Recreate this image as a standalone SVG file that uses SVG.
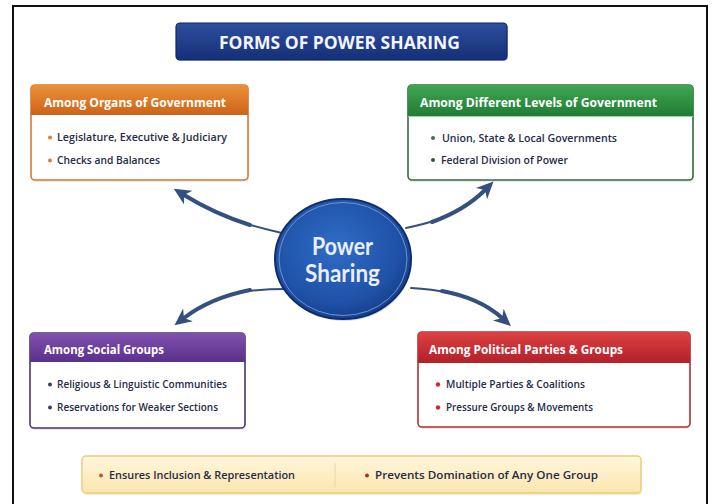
<svg xmlns="http://www.w3.org/2000/svg" width="714" height="504" viewBox="0 0 714 504">
<defs>
<linearGradient id="gTitle" x1="0" y1="0" x2="0" y2="1"><stop offset="0" stop-color="#2d4f9e"/><stop offset="1" stop-color="#152f78"/></linearGradient>
<linearGradient id="gOrange" x1="0" y1="0" x2="0" y2="1"><stop offset="0" stop-color="#ec9138"/><stop offset="1" stop-color="#cc631a"/></linearGradient>
<linearGradient id="gGreen" x1="0" y1="0" x2="0" y2="1"><stop offset="0" stop-color="#3fa651"/><stop offset="1" stop-color="#207d34"/></linearGradient>
<linearGradient id="gPurple" x1="0" y1="0" x2="0" y2="1"><stop offset="0" stop-color="#8052ad"/><stop offset="1" stop-color="#5b2f8c"/></linearGradient>
<linearGradient id="gRed" x1="0" y1="0" x2="0" y2="1"><stop offset="0" stop-color="#dc4242"/><stop offset="1" stop-color="#b2202a"/></linearGradient>
<linearGradient id="gBar" x1="0" y1="0" x2="0" y2="1"><stop offset="0" stop-color="#fff7dc"/><stop offset="1" stop-color="#fbe5ae"/></linearGradient>
<radialGradient id="gCircle" cx="0.45" cy="0.4" r="0.65"><stop offset="0" stop-color="#2f6cc6"/><stop offset="0.7" stop-color="#1f52a8"/><stop offset="1" stop-color="#133b86"/></radialGradient>
<marker id="ah" markerUnits="userSpaceOnUse" markerWidth="20" markerHeight="18" viewBox="0 0 20 18" refX="5" refY="9" orient="auto">
<path d="M0,1 L17,9 L0,17 L5,9 Z" fill="#34507e"/>
</marker>
</defs>
<style>
.frame{fill:#ffffff;stroke:#111111;stroke-width:2}
.hd{font-family:"Open Sans",Lato,"Liberation Sans",sans-serif;font-weight:bold;font-size:12px;fill:#ffffff}
.it{font-family:"Open Sans",Lato,"Liberation Sans",sans-serif;font-weight:600;font-size:10.5px;fill:#262b48}
.body{fill:#ffffff;stroke-width:1.6}
.shadow{fill:#000000;opacity:0.08}
.conn{fill:none;stroke:#34507e;stroke-width:4;stroke-linecap:round;marker-end:url(#ah)}
.tail{fill:none;stroke:#34507e;stroke-width:2;stroke-linecap:round}
</style>
<rect class="frame" x="13" y="6" width="694" height="520"/>

<g id="title">
<rect x="177" y="24" width="331" height="37" rx="4" fill="#0e2460" opacity="0.25"/>
<rect x="176" y="23" width="331" height="37" rx="4" fill="url(#gTitle)" stroke="#0f2660" stroke-width="1.2"/>
<text x="339.5" y="49" text-anchor="middle" font-family="'Open Sans',Lato,'Liberation Sans',sans-serif" font-weight="bold" font-size="18" fill="#f2f5fb" textLength="241" lengthAdjust="spacingAndGlyphs">FORMS OF POWER SHARING</text>
</g>

<g id="connectors">
<path class="tail" d="M 282 233 Q 260 228 240 222"/>
<path class="conn" d="M 250 225 Q 215 214 184 195"/>
<path class="tail" d="M 406 228 Q 425 224 440 219"/>
<path class="conn" d="M 432 222 Q 465 210 485 190"/>
<path class="tail" d="M 286 289 Q 262 289 240 292"/>
<path class="conn" d="M 250 290 Q 210 298 184 318"/>
<path class="tail" d="M 411 288 Q 432 289 450 293"/>
<path class="conn" d="M 442 291 Q 480 298 502 318"/>
</g>

<g id="center">
<ellipse cx="344" cy="261" rx="68" ry="60" fill="#000000" opacity="0.12"/>
<ellipse cx="343" cy="259" rx="68" ry="60" fill="url(#gCircle)" stroke="#0e2e6a" stroke-width="2"/>
<ellipse cx="343" cy="259" rx="64" ry="56.5" fill="none" stroke="#6d93d4" stroke-width="1"/>
<text x="342.5" y="255" text-anchor="middle" font-family="Lato,'Liberation Sans',sans-serif" font-weight="bold" font-size="24" fill="#e9eef8" textLength="61" lengthAdjust="spacingAndGlyphs">Power</text>
<text x="342.5" y="282" text-anchor="middle" font-family="Lato,'Liberation Sans',sans-serif" font-weight="bold" font-size="24" fill="#e9eef8" textLength="75" lengthAdjust="spacingAndGlyphs">Sharing</text>
</g>

<g id="organs">
<rect class="shadow" x="32" y="87" width="217" height="95" rx="4"/>
<rect class="body" x="31" y="85" width="217" height="95" rx="4" stroke="#d27a32"/>
<path d="M31,115 V89 Q31,85 35,85 H244 Q248,85 248,89 V115 Z" fill="url(#gOrange)"/>
<text class="hd" x="44" y="107" textLength="182" lengthAdjust="spacingAndGlyphs">Among Organs of Government</text>
<circle cx="50" cy="137.5" r="2" fill="#e07a3a"/>
<text class="it" x="57" y="141" textLength="170" lengthAdjust="spacingAndGlyphs">Legislature, Executive &amp; Judiciary</text>
<circle cx="50" cy="160.5" r="2" fill="#e07a3a"/>
<text class="it" x="57" y="164" textLength="103" lengthAdjust="spacingAndGlyphs">Checks and Balances</text>
</g>

<g id="levels">
<rect class="shadow" x="409" y="87" width="285" height="95" rx="4"/>
<rect class="body" x="408" y="85" width="285" height="95" rx="4" stroke="#2f6e3c"/>
<path d="M408,116 V89 Q408,85 412,85 H689 Q693,85 693,89 V116 Z" fill="url(#gGreen)"/>
<line x1="408" y1="116.5" x2="693" y2="116.5" stroke="#9fcfa6" stroke-width="1"/>
<text class="hd" x="420" y="107" textLength="237" lengthAdjust="spacingAndGlyphs">Among Different Levels of Government</text>
<circle cx="433" cy="138" r="2" fill="#4a6a50"/>
<text class="it" x="442" y="142" textLength="175" lengthAdjust="spacingAndGlyphs">Union, State &amp; Local Governments</text>
<circle cx="433" cy="160" r="2" fill="#2f5a3a"/>
<text class="it" x="441" y="164" textLength="127" lengthAdjust="spacingAndGlyphs">Federal Division of Power</text>
</g>

<g id="social">
<rect class="shadow" x="31" y="335" width="215" height="95" rx="4"/>
<rect class="body" x="30" y="333" width="215" height="95" rx="4" stroke="#4c3272"/>
<path d="M30,362 V337 Q30,333 34,333 H241 Q245,333 245,337 V362 Z" fill="url(#gPurple)"/>
<text class="hd" x="44" y="354" textLength="120" lengthAdjust="spacingAndGlyphs">Among Social Groups</text>
<circle cx="50" cy="384.5" r="2" fill="#3a3a6a"/>
<text class="it" x="57" y="388" textLength="170" lengthAdjust="spacingAndGlyphs">Religious &amp; Linguistic Communities</text>
<circle cx="50" cy="407.5" r="2" fill="#3a3a6a"/>
<text class="it" x="57" y="411" textLength="161" lengthAdjust="spacingAndGlyphs">Reservations for Weaker Sections</text>
</g>

<g id="parties">
<rect class="shadow" x="419" y="334" width="272" height="95" rx="4"/>
<rect class="body" x="418" y="332" width="272" height="95" rx="4" stroke="#ad3232"/>
<path d="M418,363 V336 Q418,332 422,332 H686 Q690,332 690,336 V363 Z" fill="url(#gRed)"/>
<text class="hd" x="429" y="354" textLength="194" lengthAdjust="spacingAndGlyphs">Among Political Parties &amp; Groups</text>
<circle cx="438" cy="384.5" r="2.2" fill="#d02a2a"/>
<text class="it" x="446" y="388" textLength="139" lengthAdjust="spacingAndGlyphs">Multiple Parties &amp; Coalitions</text>
<circle cx="438" cy="407.5" r="2.2" fill="#d02a2a"/>
<text class="it" x="446" y="411" textLength="147" lengthAdjust="spacingAndGlyphs">Pressure Groups &amp; Movements</text>
</g>

<g id="summary">
<rect x="83" y="457" width="559" height="38" rx="4" fill="#e8c878" opacity="0.35"/>
<rect x="82" y="456" width="559" height="37" rx="4" fill="url(#gBar)" stroke="#ebca7c" stroke-width="1.4"/>
<line x1="335" y1="463" x2="335" y2="487" stroke="#e6d6ac" stroke-width="1"/>
<circle cx="101" cy="475.5" r="2" fill="#c8502a"/>
<text class="it" x="109" y="479" fill="#3a2c24" textLength="186" lengthAdjust="spacingAndGlyphs">Ensures Inclusion &amp; Representation</text>
<circle cx="367" cy="475.5" r="2" fill="#b02a20"/>
<text class="it" x="375" y="479" fill="#3a2c24" textLength="223" lengthAdjust="spacingAndGlyphs">Prevents Domination of Any One Group</text>
</g>
</svg>
